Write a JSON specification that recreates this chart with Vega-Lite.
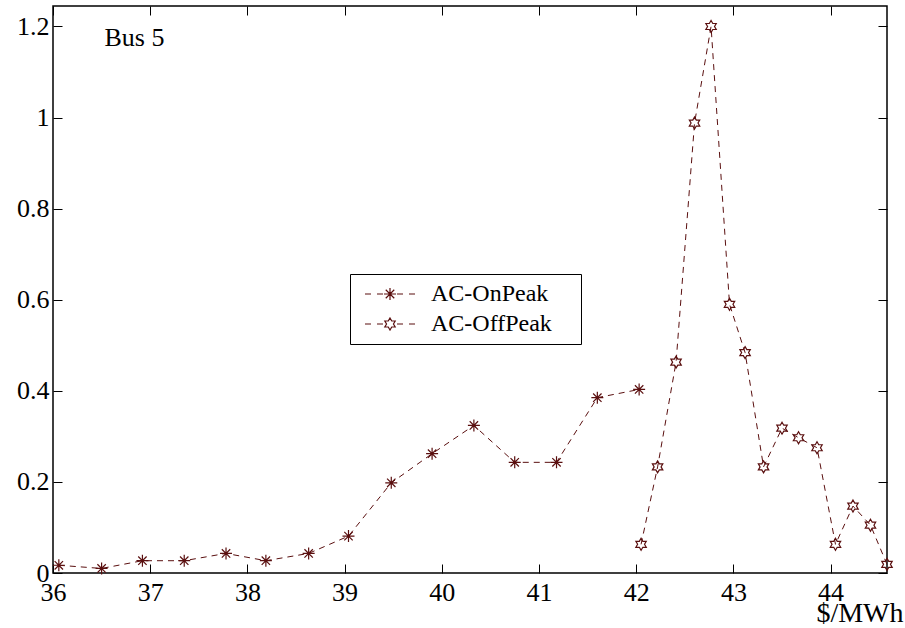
{
  "$schema": "https://vega.github.io/schema/vega-lite/v6.json",
  "width": 834,
  "height": 567,
  "autosize": {"type": "none"},
  "padding": {"left": 53, "top": 6, "right": 18, "bottom": 55},
  "background": "white",
  "config": {
    "view": {"stroke": "black", "strokeWidth": 1.5},
    "axis": {
      "grid": false,
      "domain": false,
      "tickColor": "black",
      "tickWidth": 1,
      "labelFont": "Liberation Serif",
      "labelFontSize": 26,
      "labelColor": "black",
      "labelFlush": false,
      "labelOverlap": false,
      "titleFont": "Liberation Serif",
      "titleColor": "black"
    }
  },
  "data": {
    "values": [
      {"price": 36.06, "value": 0.017, "series": "AC-OnPeak"},
      {"price": 36.50, "value": 0.010, "series": "AC-OnPeak"},
      {"price": 36.92, "value": 0.027, "series": "AC-OnPeak"},
      {"price": 37.35, "value": 0.027, "series": "AC-OnPeak"},
      {"price": 37.78, "value": 0.043, "series": "AC-OnPeak"},
      {"price": 38.19, "value": 0.027, "series": "AC-OnPeak"},
      {"price": 38.63, "value": 0.043, "series": "AC-OnPeak"},
      {"price": 39.04, "value": 0.081, "series": "AC-OnPeak"},
      {"price": 39.48, "value": 0.198, "series": "AC-OnPeak"},
      {"price": 39.90, "value": 0.262, "series": "AC-OnPeak"},
      {"price": 40.33, "value": 0.324, "series": "AC-OnPeak"},
      {"price": 40.75, "value": 0.243, "series": "AC-OnPeak"},
      {"price": 41.18, "value": 0.243, "series": "AC-OnPeak"},
      {"price": 41.60, "value": 0.385, "series": "AC-OnPeak"},
      {"price": 42.03, "value": 0.403, "series": "AC-OnPeak"},
      {"price": 42.05, "value": 0.063, "series": "AC-OffPeak"},
      {"price": 42.22, "value": 0.233, "series": "AC-OffPeak"},
      {"price": 42.41, "value": 0.463, "series": "AC-OffPeak"},
      {"price": 42.60, "value": 0.988, "series": "AC-OffPeak"},
      {"price": 42.77, "value": 1.200, "series": "AC-OffPeak"},
      {"price": 42.96, "value": 0.590, "series": "AC-OffPeak"},
      {"price": 43.12, "value": 0.484, "series": "AC-OffPeak"},
      {"price": 43.31, "value": 0.233, "series": "AC-OffPeak"},
      {"price": 43.50, "value": 0.318, "series": "AC-OffPeak"},
      {"price": 43.67, "value": 0.297, "series": "AC-OffPeak"},
      {"price": 43.86, "value": 0.275, "series": "AC-OffPeak"},
      {"price": 44.05, "value": 0.063, "series": "AC-OffPeak"},
      {"price": 44.23, "value": 0.147, "series": "AC-OffPeak"},
      {"price": 44.41, "value": 0.105, "series": "AC-OffPeak"},
      {"price": 44.58, "value": 0.019, "series": "AC-OffPeak"}
    ]
  },
  "layer": [
    {
      "mark": {"type": "line", "strokeDash": [6, 5], "strokeWidth": 1, "color": "#5a0f0f"},
      "encoding": {
        "x": {
          "field": "price", "type": "quantitative",
          "scale": {"domain": [36, 44.58], "nice": false, "zero": false},
          "axis": {
            "orient": "bottom",
            "values": [36, 37, 38, 39, 40, 41, 42, 43, 44],
            "format": "d",
            "tickSize": -9,
            "labelPadding": 15,
            "title": "$/MWh",
            "titleFontSize": 28,
            "titleFontWeight": "normal",
            "titleX": 850,
            "titleY": 48,
            "titleAlign": "right",
            "titleAnchor": null,
            "titleBaseline": "alphabetic"
          }
        },
        "y": {
          "field": "value", "type": "quantitative",
          "scale": {"domain": [0, 1.245], "nice": false},
          "axis": {
            "orient": "left",
            "values": [0, 0.2, 0.4, 0.6, 0.8, 1, 1.2],
            "format": "~g",
            "tickSize": -9,
            "labelPadding": 13,
            "title": null
          }
        },
        "detail": {"field": "series"}
      }
    },
    {
      "mark": {"type": "point", "filled": false, "strokeWidth": 1.2, "size": 144, "color": "#5a0f0f", "opacity": 1},
      "encoding": {
        "x": {
          "field": "price", "type": "quantitative",
          "axis": {"orient": "top", "values": [36, 37, 38, 39, 40, 41, 42, 43, 44], "tickSize": -9, "labels": false, "title": null}
        },
        "y": {
          "field": "value", "type": "quantitative",
          "axis": {"orient": "right", "values": [0, 0.2, 0.4, 0.6, 0.8, 1, 1.2], "tickSize": -9, "labels": false, "title": null}
        },
        "shape": {
          "field": "series", "type": "nominal",
          "scale": {
            "domain": ["AC-OnPeak", "AC-OffPeak"],
            "range": [
              "M0,-1L0,1M-1,0L1,0M-0.7,-0.7L0.7,0.7M-0.7,0.7L0.7,-0.7",
              "M0,-1L0.289,-0.5L0.866,-0.5L0.577,0L0.866,0.5L0.289,0.5L0,1L-0.289,0.5L-0.866,0.5L-0.577,0L-0.866,-0.5L-0.289,-0.5Z"
            ]
          },
          "legend": null
        }
      }
    },
    {
      "mark": {"type": "point", "filled": false, "strokeWidth": 1, "size": 100, "color": "#5a0f0f", "opacity": 0},
      "encoding": {
        "x": {"field": "price", "type": "quantitative", "axis": null},
        "y": {"field": "value", "type": "quantitative", "axis": null},
        "shape": {
          "field": "series", "type": "nominal",
          "scale": {
            "domain": ["AC-OnPeak", "AC-OffPeak"],
            "range": [
              "M-5,0L-3.8,0M-2.6,0L-1.4,0M-1.2,0L1.2,0M0,-1.2L0,1.2M-1.2,0L1.2,0M-0.85,-0.85L0.85,0.85M-0.85,0.85L0.85,-0.85M1.4,0L2.6,0M3.8,0L5,0M36,0",
              "M-5,0L-3.8,0M-2.6,0L-1.4,0M0,-1.2L0.35,-0.6L1.04,-0.6L0.69,0L1.04,0.6L0.35,0.6L0,1.2L-0.35,0.6L-1.04,0.6L-0.69,0L-1.04,-0.6L-0.35,-0.6ZM1.4,0L2.6,0M3.8,0L5,0M36,0"
            ]
          },
          "legend": {
            "orient": "none",
            "legendX": 297,
            "legendY": 268,
            "title": null,
            "strokeColor": "black",
            "fillColor": "white",
            "padding": 8,
            "labelFont": "Liberation Serif",
            "labelFontSize": 24,
            "labelColor": "black",
            "symbolSize": 100,
            "symbolOpacity": 1,
            "symbolStrokeWidth": 1.2,
            "symbolOffset": 20,
            "labelOffset": 29,
            "rowPadding": 6
          }
        }
      }
    },
    {
      "data": {"values": [{"label": "Bus 5"}]},
      "mark": {"type": "text", "font": "Liberation Serif", "fontSize": 26, "align": "left", "baseline": "alphabetic", "color": "black"},
      "encoding": {
        "x": {"datum": 36.53, "type": "quantitative", "axis": null},
        "y": {"datum": 1.157, "type": "quantitative", "axis": null},
        "text": {"field": "label"}
      }
    }
  ],
  "resolve": {
    "scale": {"shape": "independent"},
    "axis": {"x": "independent", "y": "independent"}
  }
}
